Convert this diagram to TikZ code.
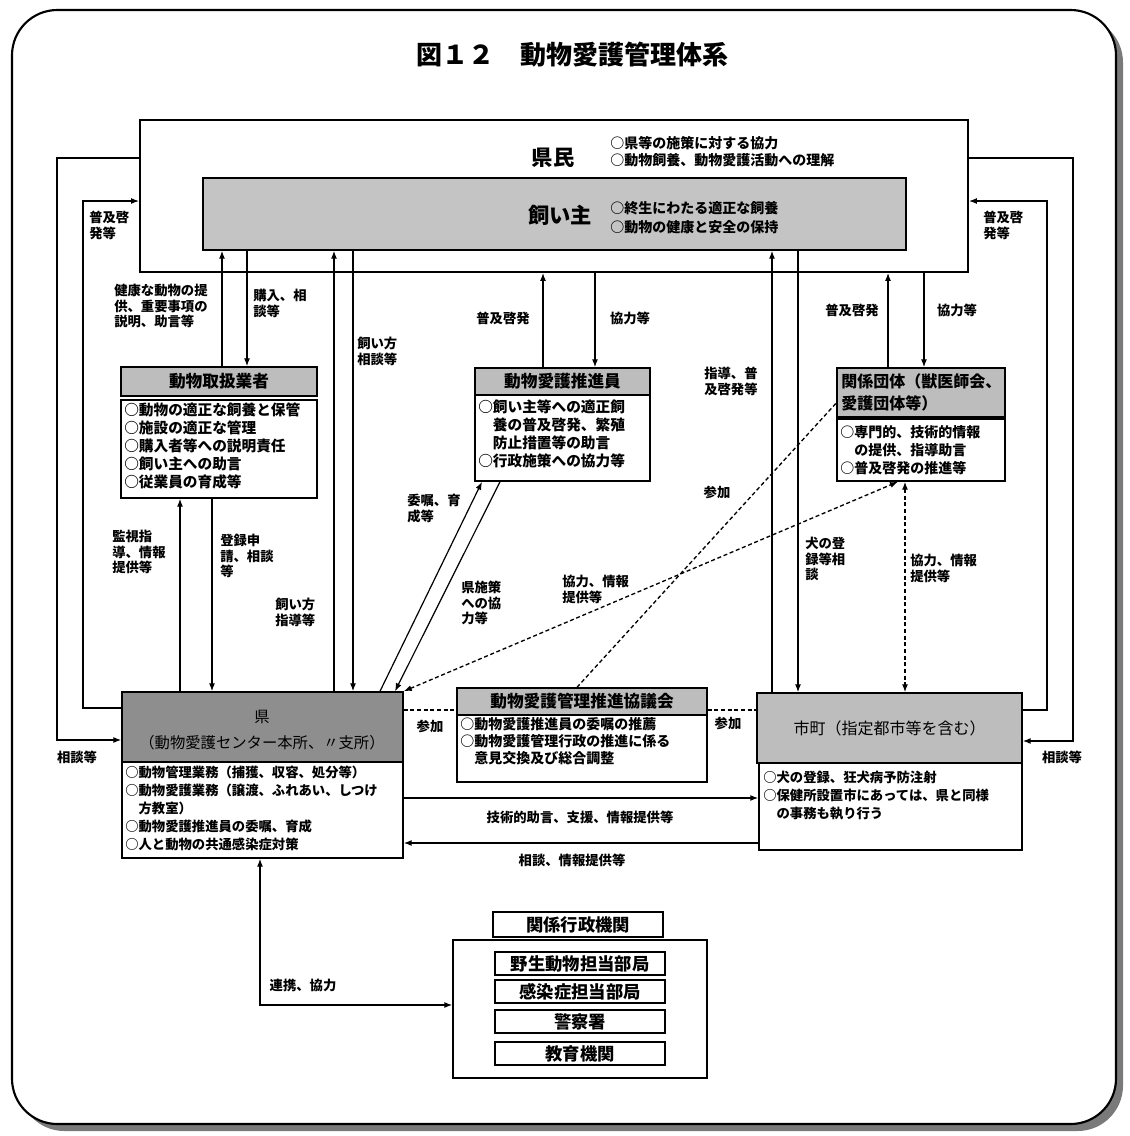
\documentclass[tikz,border=0pt]{standalone}
\usepackage{fontspec}
\setmainfont{Noto Sans CJK JP}
\usetikzlibrary{arrows.meta,fit,calc}
\definecolor{hdr}{HTML}{BDBDBD}
\definecolor{kaigrey}{HTML}{C4C4C4}
\definecolor{kendark}{HTML}{8E8E8E}
\definecolor{shadowc}{HTML}{7A7A7A}
\begin{document}
\begin{tikzpicture}[x=0.75pt,y=-0.75pt,
  box/.style={draw, line width=1.1pt, inner sep=0pt},
  hbox/.style={box, fill=hdr},
  htxt/.style={font=\bfseries\fontsize{12.5}{14}\selectfont, inner sep=0pt},
  bottxt/.style={font=\bfseries\fontsize{13}{14}\selectfont, inner sep=0pt},
  lbl/.style={font=\bfseries\fontsize{10}{11.5}\selectfont, align=left, inner sep=0pt},
  body/.style={font=\bfseries\fontsize{10.5}{13.5}\selectfont, align=left, inner sep=0pt, anchor=north west},
  arr/.style={line width=0.9pt, -{Latex[length=6pt,width=4.5pt]}},
  dsh/.style={line width=1pt, dash pattern=on 3pt off 2pt},
  tip/.tip={Latex[length=6pt,width=4.5pt]}
]
\useasboundingbox (0,0) rectangle (1129,1136);
% frame
\fill[shadowc, rounded corners=34pt] (19,17) rectangle (1123,1131);
\draw[line width=1.6pt, fill=white, rounded corners=34pt] (12,10) rectangle (1116,1124);

% title
\node[font=\bfseries\fontsize{19.5}{20}\selectfont] (title) at (572,55) {図１２　動物愛護管理体系};

% kenmin
\node[box, line width=1.4pt, fit={(140,120) (968,272)}] (kenmin) {};
\node[font=\bfseries\fontsize{16}{18}\selectfont] (kenminT) at (553,158) {県民};
\node[body, anchor=west, font=\bfseries\fontsize{10.5}{12.75}\selectfont] (kenminB) at (610,152) {○県等の施策に対する協力\\○動物飼養、動物愛護活動への理解};

% kainushi
\node[box, fill=kaigrey, fit={(203,178) (906,250)}] (kainushi) {};
\node[font=\bfseries\fontsize{16}{18}\selectfont] (kainushiT) at (560,215) {飼い主};
\node[body, anchor=west, font=\bfseries\fontsize{10.5}{14}\selectfont] (kainushiB) at (610,218) {○終生にわたる適正な飼養\\○動物の健康と安全の保持};

% toriatsukai
\node[hbox, fit={(121,367) (317,396)}] (toriH) {};
\node[htxt] (toriT) at (toriH.center) {動物取扱業者};
\node[box, fit={(121,400) (317,498)}] (toriC) {};
\node[body, font=\bfseries\fontsize{11}{13.5}\selectfont] (toriB) at (124,403) {○動物の適正な飼養と保管\\○施設の適正な管理\\○購入者等への説明責任\\○飼い主への助言\\○従業員の育成等};

% suishin
\node[hbox, fit={(475,368) (650,395)}] (suishinH) {};
\node[htxt] (suishinT) at (suishinH.center) {動物愛護推進員};
\node[box, fit={(475,395) (650,481)}] (suishinC) {};
\node[body, font=\bfseries\fontsize{11}{13.5}\selectfont] (suishinB) at (478,400) {○飼い主等への適正飼\\　養の普及啓発、繁殖\\　防止措置等の助言\\○行政施策への協力等};

% dantai
\node[hbox, fit={(837,368) (1005,417)}] (dantaiH) {};
\node[font=\bfseries\fontsize{12}{17}\selectfont, align=left, anchor=north west, inner sep=0pt] (dantaiT) at (841,373) {関係団体（獣医師会、\\愛護団体等）};
\node[box, fit={(837,419) (1005,481)}] (dantaiC) {};
\node[body] (dantaiB) at (840,425) {○専門的、技術的情報\\　の提供、指導助言\\○普及啓発の推進等};

% ken
\node[box, fill=kendark, fit={(122,692) (403,762)}] (kenH) {};
\node[align=center, inner sep=0pt, font=\fontsize{11.5}{19.5}\selectfont] (kenT) at (262,730) {県\\（動物愛護センター本所、〃支所）};
\node[box, fit={(122,762) (403,858)}] (kenC) {};
\node[body, font=\bfseries\fontsize{10}{13.5}\selectfont] (kenB) at (125,766) {○動物管理業務（捕獲、収容、処分等）\\○動物愛護業務（譲渡、ふれあい、しつけ\\　方教室）\\○動物愛護推進員の委嘱、育成\\○人と動物の共通感染症対策};

% kyogikai
\node[hbox, fit={(457,688) (707,715)}] (kyogiH) {};
\node[htxt] (kyogiT) at (kyogiH.center) {動物愛護管理推進協議会};
\node[box, fit={(457,715) (707,782)}] (kyogiC) {};
\node[body, font=\bfseries\fontsize{10.5}{12.75}\selectfont] (kyogiB) at (460,717) {○動物愛護推進員の委嘱の推薦\\○動物愛護管理行政の推進に係る\\　意見交換及び総合調整};

% shicho
\node[box, fill=hdr, fit={(757,693) (1022,763)}] (shichoH) {};
\node[inner sep=0pt, font=\fontsize{12}{14}\selectfont] (shichoT) at (shichoH.center) {市町（指定都市等を含む）};
\node[box, fit={(759,763) (1022,850)}] (shichoC) {};
\node[body, font=\bfseries\fontsize{10}{13.5}\selectfont] (shichoB) at (763,771) {○犬の登録、狂犬病予防注射\\○保健所設置市にあっては、県と同様\\　の事務も執り行う};

% gyosei
\node[box, fit={(493,912) (663,937)}] (gyoseiH) {};
\node[bottxt] (gyoseiT) at (gyoseiH.center) {関係行政機関};
\node[box, fit={(453,940) (707,1078)}] (gyoseiC) {};
\node[box, fit={(495,952) (665,975)}] (g1) {};
\node[bottxt] (g1T) at (g1.center) {野生動物担当部局};
\node[box, fit={(495,980) (665,1003)}] (g2) {};
\node[bottxt] (g2T) at (g2.center) {感染症担当部局};
\node[box, fit={(495,1010) (665,1033)}] (g3) {};
\node[bottxt] (g3T) at (g3.center) {警察署};
\node[box, fit={(495,1042) (665,1065)}] (g4) {};
\node[bottxt] (g4T) at (g4.center) {教育機関};

% outer loops
\draw[arr] (kenmin.west |- 0,158) -| (57,740) -- (kenH.west |- 0,740);
\draw[arr] (kenH.west |- 0,708) -| (83,201) -- (kenmin.west |- 0,201);
\draw[arr] (kenmin.east |- 0,158) -| (1073,741) -- (shichoH.east |- 0,741);
\draw[arr] (shichoH.east |- 0,710) -| (1047,201) -- (kenmin.east |- 0,201);

% verticals
\draw[arr] (toriH.north -| 222,0) -- (kainushi.south -| 222,0);
\draw[arr] (kainushi.south -| 247,0) -- (toriH.north -| 247,0);
\draw[arr] (kenH.north -| 334,0) -- (kainushi.south -| 334,0);
\draw[arr] (kainushi.south -| 353,0) -- (kenH.north -| 353,0);
\draw[arr] (shichoH.north -| 772,0) -- (kainushi.south -| 772,0);
\draw[arr] (kainushi.south -| 798,0) -- (shichoH.north -| 798,0);
\draw[arr] (suishinH.north -| 543,0) -- (kenmin.south -| 543,0);
\draw[arr] (kenmin.south -| 595,0) -- (suishinH.north -| 595,0);
\draw[arr] (dantaiH.north -| 888,0) -- (kenmin.south -| 888,0);
\draw[arr] (kenmin.south -| 924,0) -- (dantaiH.north -| 924,0);
\draw[arr] (kenH.north -| 180,0) -- (toriC.south -| 180,0);
\draw[arr] (toriC.south -| 212,0) -- (kenH.north -| 212,0);

% diagonals
\draw[arr] (kenH.north -| 380,0) -- (suishinC.south -| 482,0);
\draw[arr] (suishinC.south -| 500,0) -- (kenH.north -| 395,0);

% dashed
\draw[dsh] (kyogiH.north -| 577,0) -- (dantaiH.west |- 0,403);
\draw[dsh, tip-tip] (kenH.north east) -- (dantaiC.south -| 898,0);
\draw[dsh, tip-tip] (dantaiC.south -| 905,0) -- (shichoH.north -| 905,0);
\draw[dsh] (kenH.east |- 0,710) -- (kyogiH.west |- 0,710);
\draw[dsh] (kyogiH.east |- 0,710) -- (shichoH.west |- 0,710);

% horizontals
\draw[arr] (kenC.east |- 0,798) -- (shichoC.west |- 0,798);
\draw[arr] (shichoC.west |- 0,843) -- (kenC.east |- 0,843);
\draw[line width=0.9pt, tip-tip] (kenC.south -| 260,0) -- (260,1005) -- (gyoseiC.west |- 0,1005);

% labels
\node[lbl, anchor=center] (l1) at (77,757) {相談等};
\node[lbl, anchor=center] (l2) at (1062,757) {相談等};
\node[lbl, anchor=north west] (l3) at (89,211) {普及啓\\発等};
\node[lbl, anchor=north west] (l4) at (983,211) {普及啓\\発等};
\node[lbl, anchor=north west] (l5) at (114,284) {健康な動物の提\\供、重要事項の\\説明、助言等};
\node[lbl, anchor=north west] (l6) at (253,289) {購入、相\\談等};
\node[lbl, anchor=north west] (l7) at (357,337) {飼い方\\相談等};
\node[lbl, anchor=center] (l8) at (503,318) {普及啓発};
\node[lbl, anchor=center] (l9) at (630,318) {協力等};
\node[lbl, anchor=north west] (l10) at (704,367) {指導、普\\及啓発等};
\node[lbl, anchor=center] (l11) at (852,310) {普及啓発};
\node[lbl, anchor=center] (l12) at (957,310) {協力等};
\node[lbl, anchor=north west] (l13) at (112,530) {監視指\\導、情報\\提供等};
\node[lbl, anchor=north west] (l14) at (220,534) {登録申\\請、相談\\等};
\node[lbl, anchor=north west] (l15) at (275,598) {飼い方\\指導等};
\node[lbl, anchor=north west] (l16) at (407,494) {委嘱、育\\成等};
\node[lbl, anchor=north west] (l17) at (461,581) {県施策\\への協\\力等};
\node[lbl, anchor=north west] (l18) at (562,575) {協力、情報\\提供等};
\node[lbl, anchor=center] (l19) at (717,492) {参加};
\node[lbl, anchor=north west] (l20) at (805,537) {犬の登\\録等相\\談};
\node[lbl, anchor=north west] (l21) at (910,554) {協力、情報\\提供等};
\node[lbl, anchor=center] (l22) at (430,726) {参加};
\node[lbl, anchor=center] (l23) at (728,723) {参加};
\node[lbl, anchor=center] (l24) at (580,817) {技術的助言、支援、情報提供等};
\node[lbl, anchor=center] (l25) at (572,860) {相談、情報提供等};
\node[lbl, anchor=center] (l26) at (303,985) {連携、協力};
\end{tikzpicture}
\end{document}
